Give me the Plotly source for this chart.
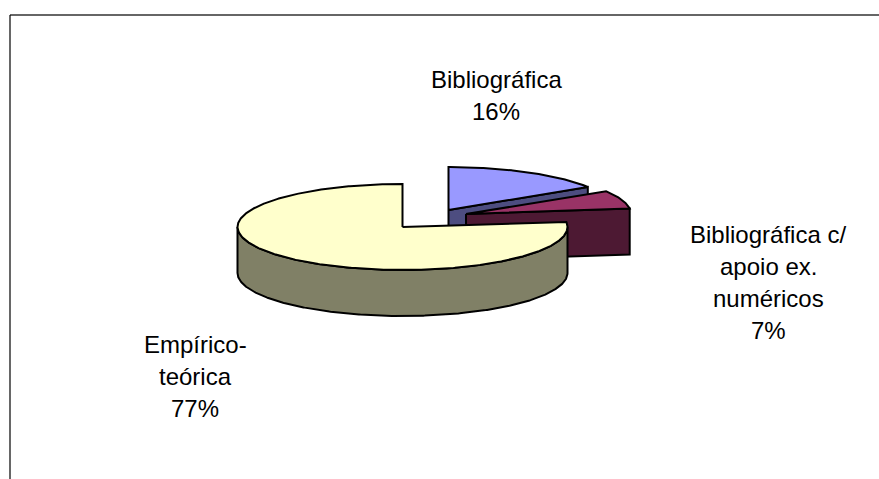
import numpy as np
import plotly.graph_objects as go

# Chart data
categories = ["Bibliográfica", "Bibliográfica c/ apoio ex. numéricos", "Empírico-teórica"]
shares = [16, 7, 77]
label_lines = [["Bibliográfica"], ["Bibliográfica c/", "apoio ex.", "numéricos"], ["Empírico-", "teórica"]]

# Styling
top_colors = ["#9999FF", "#993366", "#FFFFCC"]
wall_colors = ["#4D4D80", "#4D1933", "#808066"]
centers = [(448.5, 210), (466, 214), (402.5, 227)]
label_anchor = [(496, 79), (768, 234), (195, 344)]
RX, RY, DEPTH = 165, 43, 46
LINE_STEP = 32.3


def rim(cx, cy, a0, a1, dy=0.0):
    """Rim points of the tilted disc, angles in degrees clockwise from 12 o'clock."""
    t = np.radians(np.linspace(a0, a1, max(int(abs(a1 - a0)) * 2, 2)))
    return cx + RX * np.sin(t), cy - RY * np.cos(t) + dy


def polygon(xs, ys, fill):
    return go.Scatter(
        x=list(xs), y=list(ys), mode="lines", fill="toself", fillcolor=fill,
        line=dict(color="black", width=2), hoverinfo="skip", showlegend=False,
    )


edges = np.concatenate([[0], np.cumsum(shares)]) * 3.6
fig = go.Figure()

for i in range(3):
    cx, cy = centers[i]
    a0, a1 = edges[i], edges[i + 1]
    if a1 - a0 < 180:
        # Exploded small slices show the wall along their closing radius
        ex, ey = rim(cx, cy, a1, a1)
        wall_x = [cx, ex[0], ex[0], cx, cx]
        wall_y = [cy, ey[0], ey[0] + DEPTH, cy + DEPTH, cy]
    else:
        # The large slice shows the outer wall along the front half of the disc
        fx, fy = rim(cx, cy, 90, 270)
        wall_x = np.concatenate([fx, fx[::-1], fx[:1]])
        wall_y = np.concatenate([fy, fy[::-1] + DEPTH, fy[:1]])
    fig.add_trace(polygon(wall_x, wall_y, wall_colors[i]))

    rx, ry = rim(cx, cy, a0, a1)
    fig.add_trace(polygon(
        np.concatenate([[cx], rx, [cx]]), np.concatenate([[cy], ry, [cy]]), top_colors[i]
    ))

# Slice labels: category lines followed by the percentage
annotations = []
for lines, share, (ax, ay) in zip(label_lines, shares, label_anchor):
    for n, text in enumerate(lines + [f"{share}%"]):
        annotations.append(dict(
            x=ax, y=ay + n * LINE_STEP, xref="x", yref="y", text=text, showarrow=False,
            xanchor="center", yanchor="middle",
            font=dict(family="Liberation Sans, Arial, sans-serif", size=24, color="black"),
        ))

# Chart area border: only the top and left sides are drawn
shapes = [
    dict(type="line", xref="x", yref="y", x0=10, x1=879, y0=15, y1=15,
         line=dict(color="#333333", width=1.5)),
    dict(type="line", xref="x", yref="y", x0=10, x1=10, y0=15, y1=479,
         line=dict(color="black", width=1.2)),
]

fig.update_layout(
    width=879, height=479, margin=dict(l=0, r=0, t=0, b=0),
    paper_bgcolor="white", plot_bgcolor="white", showlegend=False,
    xaxis=dict(range=[0, 879], visible=False, fixedrange=True),
    yaxis=dict(range=[479, 0], visible=False, fixedrange=True),
    annotations=annotations, shapes=shapes,
)

fig.write_html("out.html", config={"displayModeBar": False})
